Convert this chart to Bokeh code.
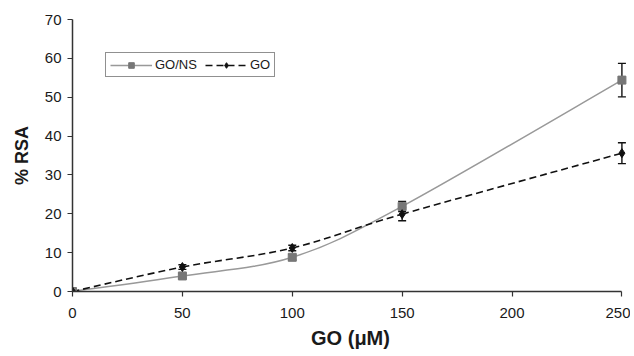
from bokeh.plotting import figure
from bokeh.models import (Range1d, Legend, LegendItem, Whisker, ColumnDataSource,
                          TeeHead, FixedTicker)
from bokeh.embed import file_html
from bokeh.resources import INLINE

# ---- data ----
conc = [0, 50, 100, 150, 250]
go_ns = [0.0, 4.0, 8.8, 21.9, 54.4]
go_ns_err = [0.3, 0.6, 0.7, 1.3, 4.3]
go = [0.0, 6.3, 11.2, 19.9, 35.6]
go_err = [0.3, 0.6, 0.7, 1.7, 2.7]
x_ticks = [0, 50, 100, 150, 200, 250]
y_ticks = [0, 10, 20, 30, 40, 50, 60, 70]

FONT = "Liberation Sans"

p = figure(width=630, height=350, output_backend="svg", toolbar_location=None,
           x_range=Range1d(0, 253), y_range=Range1d(0, 70),
           min_border_left=72, min_border_right=2, min_border_top=19,
           min_border_bottom=59)
p.frame_width = 556
p.frame_height = 272
p.outline_line_color = None
p.grid.visible = False
p.background_fill_color = "white"

for ax in (p.xaxis[0], p.yaxis[0]):
    ax.major_label_text_font = FONT
    ax.major_label_text_font_size = "15px"
    ax.major_label_text_color = "#1a1a1a"
    ax.axis_line_color = "#333333"
    ax.axis_line_width = 1.5
    ax.major_tick_line_color = "#333333"
    ax.major_tick_line_width = 1.2
    ax.major_tick_out = 5
    ax.major_tick_in = 0
    ax.minor_tick_line_color = None
    ax.axis_label_text_font = FONT
    ax.axis_label_text_font_style = "bold"
    ax.axis_label_text_color = "#1a1a1a"

p.xaxis[0].ticker = FixedTicker(ticks=x_ticks)
p.yaxis[0].ticker = FixedTicker(ticks=y_ticks)
p.xaxis[0].bounds = (0, 250)
p.yaxis[0].bounds = (0, 70)
p.xaxis[0].axis_label = "GO (μM)"
p.xaxis[0].axis_label_text_font_size = "20px"
p.xaxis[0].axis_label_standoff = 6
p.xaxis[0].major_label_standoff = 11
p.yaxis[0].axis_label = "% RSA"
p.yaxis[0].axis_label_text_font_size = "18px"
p.yaxis[0].axis_label_standoff = 10
p.yaxis[0].major_label_standoff = 6


def smooth_segments(xs, ys):
    """Catmull-Rom style Bezier control points derived from the data points."""
    n = len(xs)
    x0, y0, x1, y1, cx0, cy0, cx1, cy1 = ([] for _ in range(8))
    for i in range(n - 1):
        xm1, ym1 = (xs[i - 1], ys[i - 1]) if i > 0 else (xs[i], ys[i])
        xp2, yp2 = (xs[i + 2], ys[i + 2]) if i + 2 < n else (xs[i + 1], ys[i + 1])
        x0.append(xs[i]); y0.append(ys[i])
        x1.append(xs[i + 1]); y1.append(ys[i + 1])
        cx0.append(xs[i] + (xs[i + 1] - xm1) / 6.0)
        cy0.append(ys[i] + (ys[i + 1] - ym1) / 6.0)
        cx1.append(xs[i + 1] - (xp2 - xs[i]) / 6.0)
        cy1.append(ys[i + 1] - (yp2 - ys[i]) / 6.0)
    return dict(x0=x0, y0=y0, x1=x1, y1=y1, cx0=cx0, cy0=cy0, cx1=cx1, cy1=cy1)


# GO/NS series
s1 = ColumnDataSource(smooth_segments(conc, go_ns))
r1_line = p.bezier(x0="x0", y0="y0", x1="x1", y1="y1", cx0="cx0", cy0="cy0",
                   cx1="cx1", cy1="cy1", source=s1, line_color="#999999", line_width=1.5)
# GO series
s2 = ColumnDataSource(smooth_segments(conc, go))
r2_line = p.bezier(x0="x0", y0="y0", x1="x1", y1="y1", cx0="cx0", cy0="cy0",
                   cx1="cx1", cy1="cy1", source=s2, line_color="#111111", line_width=1.6,
                   line_dash="7 4")

# error bars
e1 = ColumnDataSource(dict(x=conc, lo=[v - e for v, e in zip(go_ns, go_ns_err)],
                           hi=[v + e for v, e in zip(go_ns, go_ns_err)]))
e2 = ColumnDataSource(dict(x=conc, lo=[v - e for v, e in zip(go, go_err)],
                           hi=[v + e for v, e in zip(go, go_err)]))
for src in (e1, e2):
    w = Whisker(base="x", lower="lo", upper="hi", source=src, dimension="height",
                line_color="#111111", line_width=1.4,
                upper_head=TeeHead(size=8, line_color="#111111", line_width=1.4),
                lower_head=TeeHead(size=8, line_color="#111111", line_width=1.4))
    p.add_layout(w)

r1_pts = p.scatter(conc, go_ns, marker="square", size=8, fill_color="#777777",
                   line_color="#777777")
r2_pts = p.scatter(conc, go, marker="diamond", size=9, fill_color="#111111",
                   line_color="#111111")

legend = Legend(items=[LegendItem(label="GO/NS", renderers=[r1_line, r1_pts]),
                       LegendItem(label="GO", renderers=[r2_line, r2_pts])],
                orientation="horizontal", location=(33, 214),
                label_text_font=FONT, label_text_font_size="13px",
                label_text_color="#1a1a1a",
                glyph_width=42, glyph_height=14, label_standoff=3, spacing=8,
                padding=4, margin=0, border_line_color="#222222",
                border_line_width=1.2, background_fill_alpha=1.0,
                label_height=14)
p.add_layout(legend, "center")

open("out.html", "w").write(file_html(p, INLINE))
